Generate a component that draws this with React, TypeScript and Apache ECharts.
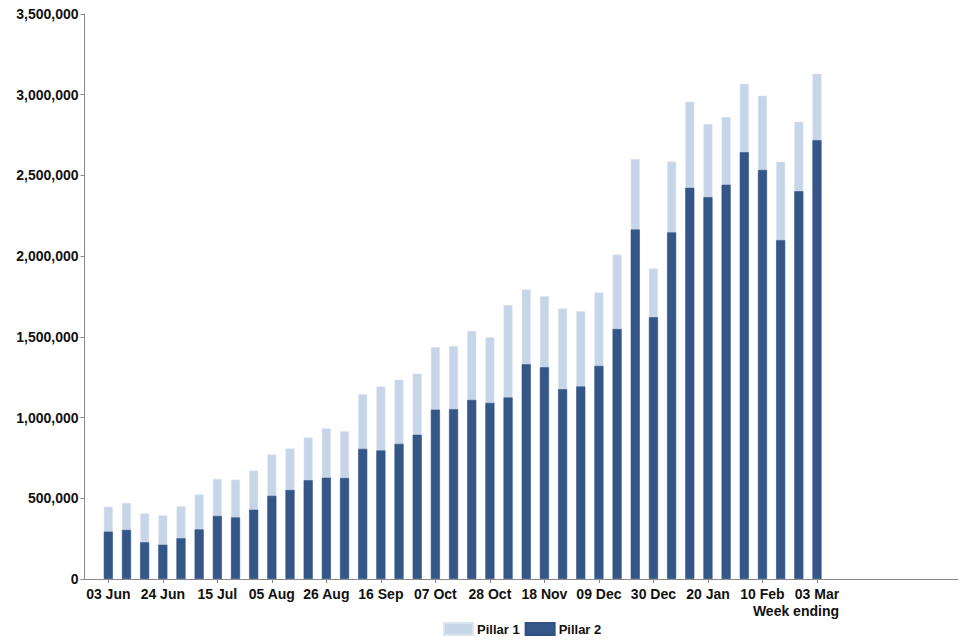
import React, { useEffect, useRef } from "react";
import * as echarts from "echarts";

const weeks = [
  "03 Jun", "10 Jun", "17 Jun", "24 Jun", "01 Jul", "08 Jul", "15 Jul", "22 Jul", "29 Jul", "05 Aug",
  "12 Aug", "19 Aug", "26 Aug", "02 Sep", "09 Sep", "16 Sep", "23 Sep", "30 Sep", "07 Oct", "14 Oct",
  "21 Oct", "28 Oct", "04 Nov", "11 Nov", "18 Nov", "25 Nov", "02 Dec", "09 Dec", "16 Dec", "23 Dec",
  "30 Dec", "06 Jan", "13 Jan", "20 Jan", "27 Jan", "03 Feb", "10 Feb", "17 Feb", "24 Feb", "03 Mar",
];

const pillar2 = [
  293000, 304000, 227000, 212000, 252000, 307000, 390000, 381000, 429000, 515000,
  551000, 611000, 627000, 625000, 806000, 796000, 837000, 893000, 1049000, 1052000,
  1109000, 1091000, 1124000, 1330000, 1311000, 1175000, 1192000, 1320000, 1548000, 2165000,
  1621000, 2147000, 2423000, 2365000, 2442000, 2643000, 2534000, 2099000, 2402000, 2718000,
];

const pillar1 = [
  155000, 167000, 179000, 182000, 199000, 217000, 230000, 234000, 243000, 256000,
  258000, 266000, 307000, 291000, 339000, 396000, 398000, 379000, 387000, 392000,
  427000, 406000, 573000, 464000, 440000, 501000, 466000, 455000, 462000, 437000,
  303000, 439000, 534000, 454000, 420000, 425000, 460000, 485000, 431000, 412000,
];

const labelIdx = [0, 3, 6, 9, 12, 15, 18, 21, 24, 27, 30, 33, 36, 39];

const FONT = "'Liberation Sans', Arial, sans-serif";

export default function App() {
  const ref = useRef<HTMLDivElement>(null);
  useEffect(() => {
    if (!ref.current) return;
    const chart = echarts.init(ref.current, null, { renderer: "svg" });
    // Pillar 1 sits on top of Pillar 2: drawn as the column total, with Pillar 2 overlaid from zero.
    const totals = pillar1.map((v, i) => v + pillar2[i]);
    chart.setOption({
      animation: false,
      backgroundColor: "#ffffff",
      textStyle: { fontFamily: FONT },
      grid: { left: 84.5, right: 2, top: 14, bottom: 61, outerBoundsMode: "none", containLabel: false },
      legend: {
        left: 438,
        top: 617,
        itemWidth: 29,
        itemHeight: 12,
        itemGap: 5,
        icon: "rect",
        textStyle: { fontFamily: FONT, fontSize: 13, fontWeight: "bold", color: "#111", padding: [0, 0, 0, -1] },
        data: ["Pillar 1", "Pillar 2"],
      },
      xAxis: {
        type: "value",
        min: -1.31,
        max: 46.76,
        splitLine: { show: false },
        axisLine: { show: true, onZero: false, lineStyle: { color: "#8a8a8a", width: 1 } },
        axisTick: { show: true, customValues: labelIdx, length: 4, lineStyle: { color: "#8a8a8a" } },
        axisLabel: {
          customValues: labelIdx,
          margin: 8,
          fontFamily: FONT,
          fontSize: 14,
          fontWeight: "bold",
          color: "#111",
          formatter: (v: number) => weeks[Math.round(v)] ?? "",
        },
      },
      yAxis: {
        type: "value",
        min: 0,
        max: 3500000,
        interval: 500000,
        splitLine: { show: false },
        axisLine: { show: true, onZero: false, lineStyle: { color: "#8a8a8a", width: 1 } },
        axisTick: { show: true, length: 4, lineStyle: { color: "#8a8a8a" } },
        axisLabel: {
          margin: 6,
          fontFamily: FONT,
          fontSize: 14,
          fontWeight: "bold",
          color: "#111",
          formatter: (v: number) => v.toLocaleString("en-GB"),
        },
      },
      graphic: [
        {
          type: "text",
          right: 121,
          top: 604,
          style: {
            text: "Week ending",
            font: `bold 14px ${FONT}`,
            fill: "#111",
          },
        },
      ],
      series: [
        {
          name: "Pillar 1",
          type: "bar",
          barWidth: 9,
          barGap: "-100%",
          itemStyle: { color: "#c6d5e8", borderColor: "#dbe5f1", borderWidth: 0.5 },
          data: totals.map((v, i) => [i, v]),
        },
        {
          name: "Pillar 2",
          type: "bar",
          barWidth: 9,
          barGap: "-100%",
          itemStyle: { color: "#345787", borderColor: "#2f5183", borderWidth: 0.5 },
          data: pillar2.map((v, i) => [i, v]),
        },
      ],
    });
    return () => chart.dispose();
  }, []);
  return <div ref={ref} style={{ position: "fixed", left: 0, top: 0, width: 960, height: 640 }} />;
}
